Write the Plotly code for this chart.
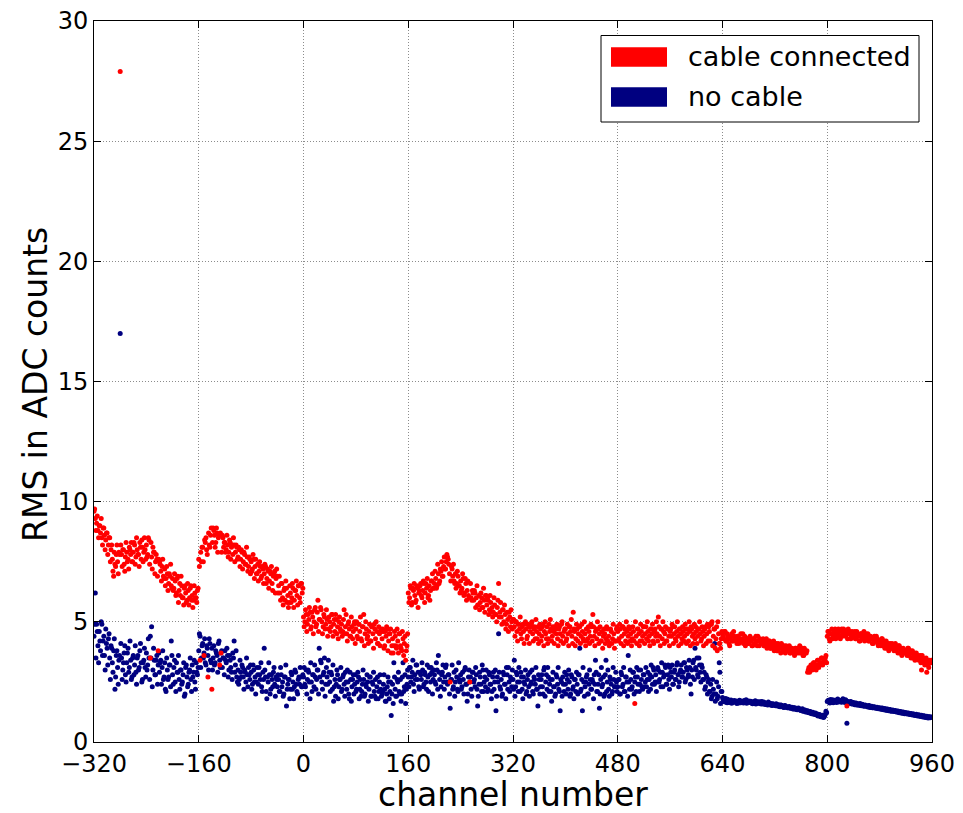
import plotly.graph_objects as go

# channel numbers: even channels, then odd channels
channels_even = list(range(-320, 960, 2))
channels_odd = list(range(-319, 960, 2))

# ---- RMS, cable connected (red): even channels, 80 values per 160-channel block ----
red_a = [9.6, 9.3, 9.1, 8.8, 9.0, 8.7, 8.5, 8.9, 8.6, 8.4,
         8.7, 8.2, 8.5, 8.0, 7.6, 6.9, 7.4, 7.8, 7.5, 7.9,
         27.9, 7.8, 8.0, 7.4, 7.7, 7.9, 7.6, 8.1, 7.8, 7.5,
         7.9, 8.2, 7.7, 8.0, 7.8, 8.3, 7.6, 8.1, 7.9, 8.0,
         8.2, 7.8, 8.4, 3.5, 7.7, 8.1, 7.9, 7.5, 7.6, 3.8,
         7.5, 7.1, 7.3, 6.9, 7.2, 6.8, 7.0, 6.6, 6.9, 6.5,
         6.8, 6.4, 6.7, 6.2, 6.9, 6.3, 6.1, 6.5, 6.0, 6.4,
         6.2, 5.9, 6.3, 6.0, 6.5, 6.1, 5.9, 6.2, 6.0, 6.3]
red_b = [7.6, 3.4, 7.5, 8.1, 3.6, 8.3, 8.0, 2.7, 8.2, 8.6,
         2.2, 8.9, 8.6, 8.3, 8.7, 8.5, 3.2, 3.7, 8.6, 8.1,
         8.3, 8.0, 8.2, 7.9, 8.3, 8.1, 7.8, 8.2, 7.9, 8.1,
         7.7, 8.0, 7.6, 7.9, 7.5, 7.8, 7.4, 7.7, 7.3, 7.6,
         7.5, 7.2, 7.6, 7.3, 7.0, 7.4, 7.1, 7.3, 6.9, 7.2,
         7.0, 7.3, 6.8, 7.1, 6.7, 7.0, 6.6, 6.9, 7.1, 6.8,
         6.9, 6.5, 6.2, 6.6, 6.0, 6.3, 5.9, 6.4, 6.1, 5.8,
         6.2, 6.0, 6.4, 5.9, 6.3, 6.1, 6.5, 6.0, 6.6, 6.2]
red_c = [5.2, 5.0, 5.3, 4.9, 5.1, 5.4, 4.8, 5.2, 5.0, 5.6,
         4.9, 5.9, 5.1, 5.6, 5.0, 4.8, 5.2, 4.9, 5.1, 4.7,
         5.0, 4.8, 5.3, 4.9, 4.6, 5.1, 4.8, 5.0, 4.7, 4.9,
         4.6, 5.5, 4.8, 4.5, 4.9, 4.7, 4.4, 4.8, 4.6, 5.0,
         4.7, 4.4, 4.9, 4.6, 4.3, 4.8, 5.3, 4.5, 4.7, 4.4,
         4.6, 4.2, 4.8, 4.5, 4.9, 4.3, 4.6, 4.1, 4.5, 4.7,
         4.3, 4.6, 4.0, 4.4, 4.7, 4.2, 4.5, 3.7, 4.3, 4.0,
         4.4, 3.9, 4.2, 4.5, 4.0, 3.8, 4.3, 4.1, 3.4, 4.0]
red_d = [6.2, 6.0, 6.4, 5.8, 6.3, 6.1, 5.9, 6.4, 6.2, 6.5,
         6.1, 6.3, 6.6, 6.2, 6.4, 6.0, 6.5, 6.3, 6.7, 6.4,
         6.6, 6.8, 6.5, 7.0, 6.7, 7.1, 6.9, 7.3, 7.2, 7.5,
         7.7, 7.4, 2.5, 7.3, 6.9, 6.7, 7.0, 6.6, 6.9, 6.5,
         6.7, 6.4, 6.8, 6.2, 6.6, 6.3, 6.1, 2.5, 6.0, 6.3,
         5.9, 6.2, 6.0, 5.7, 6.1, 5.8, 6.0, 5.6, 5.9, 6.1,
         5.7, 5.9, 5.5, 5.8, 5.6, 5.4, 5.7, 5.3, 5.6, 6.6,
         5.4, 5.2, 5.5, 5.0, 5.3, 4.9, 5.1, 5.4, 4.8, 5.0]
red_e = [5.1, 4.8, 5.0, 4.6, 4.9, 4.7, 4.5, 4.8, 4.6, 4.9,
         4.7, 4.4, 4.8, 4.6, 4.9, 4.5, 4.7, 4.3, 4.6, 4.8,
         4.5, 4.7, 4.4, 4.9, 4.6, 4.5, 4.8, 4.3, 4.6, 4.7,
         4.4, 4.6, 4.8, 4.5, 4.3, 4.7, 4.5, 4.9, 4.4, 4.6,
         4.7, 4.3, 4.5, 4.8, 4.6, 4.4, 5.4, 4.6, 4.3, 4.7,
         4.5, 4.8, 4.4, 4.6, 4.2, 4.5, 4.7, 4.3, 4.6, 4.4,
         4.8, 5.3, 4.4, 4.6, 4.3, 4.7, 4.5, 4.2, 4.6, 4.4,
         4.5, 4.3, 4.7, 4.4, 4.1, 4.6, 4.3, 4.5, 4.2, 4.7]
red_f = [4.6, 4.3, 4.7, 4.4, 4.8, 4.5, 4.2, 4.6, 4.4, 4.7,
         4.5, 4.3, 4.6, 1.6, 4.4, 4.7, 4.5, 4.2, 4.6, 4.4,
         4.8, 4.5, 4.3, 4.6, 4.4, 4.7, 4.5, 4.2, 4.6, 4.4,
         4.5, 5.2, 4.4, 4.7, 4.3, 4.6, 4.5, 4.2, 4.7, 4.4,
         4.6, 4.4, 4.8, 4.5, 4.3, 4.6, 4.4, 4.7, 4.5, 4.3,
         4.6, 4.4, 4.7, 4.5, 4.2, 4.6, 4.8, 4.4, 4.5, 4.3,
         4.6, 4.4, 4.7, 4.5, 4.3, 4.6, 4.4, 4.8, 4.5, 4.2,
         4.6, 4.9, 5.0, 4.4, 4.7, 4.3, 3.8, 4.5, 4.1, 4.3]
red_g = [4.5, 4.3, 4.6, 4.2, 4.4, 4.1, 4.3, 4.5, 4.2, 4.4,
         4.3, 4.1, 4.4, 4.2, 4.5, 4.3, 4.1, 4.4, 4.2, 4.3,
         4.1, 4.4, 4.2, 4.0, 4.3, 4.1, 4.2, 4.4, 4.0, 4.2,
         4.1, 4.3, 4.0, 4.2, 3.9, 4.1, 4.2, 3.9, 4.0, 4.2,
         3.9, 4.1, 3.8, 4.0, 3.9, 4.1, 3.8, 4.0, 3.7, 3.9,
         3.8, 4.0, 3.7, 3.9, 3.8, 3.6, 3.9, 3.7, 3.8, 4.0,
         3.7, 3.9, 3.6, 3.8, 3.7, 2.9, 3.1, 3.0, 3.2, 3.1,
         3.3, 3.1, 3.2, 3.4, 3.2, 3.3, 3.5, 3.3, 3.4, 3.6]
red_h = [4.4, 4.6, 4.2, 4.5, 4.3, 4.6, 4.7, 4.4, 4.5, 4.6,
         4.3, 4.7, 4.5, 4.6, 4.4, 1.5, 4.7, 4.5, 4.3, 4.6,
         4.4, 4.6, 4.3, 4.5, 4.4, 4.2, 4.5, 4.3, 4.6, 4.4,
         4.3, 4.5, 4.2, 4.4, 4.3, 4.1, 4.4, 4.2, 4.3, 4.0,
         4.2, 4.0, 4.3, 4.1, 3.9, 4.2, 4.0, 3.8, 4.1, 3.9,
         4.0, 3.8, 4.1, 3.9, 3.7, 4.0, 3.8, 3.6, 3.9, 3.7,
         3.8, 3.6, 3.9, 3.7, 3.5, 3.8, 3.6, 3.4, 3.7, 3.5,
         3.4, 3.6, 3.0, 3.5, 3.3, 3.4, 2.9, 3.2, 3.4, 3.3]

# ---- RMS, cable connected (red): odd channels ----
red_a1 = [9.7, 8.8, 9.4, 8.5, 9.0, 9.3, 8.2, 8.9, 8.0, 8.7,
          7.8, 8.5, 7.5, 8.2, 7.1, 7.9, 7.3, 8.2, 7.0, 7.8,
          8.2, 7.3, 8.0, 7.1, 8.3, 7.5, 7.2, 8.0, 8.3, 7.5,
          8.3, 7.4, 8.5, 7.8, 7.3, 8.1, 8.4, 7.5, 8.5, 7.6,
          7.7, 8.5, 7.4, 8.3, 7.2, 7.9, 7.0, 7.8, 6.9, 7.6,
          7.4, 6.7, 7.6, 6.8, 6.5, 7.3, 6.3, 7.0, 7.4, 6.4,
          6.3, 7.0, 6.1, 6.8, 5.8, 6.6, 6.9, 6.0, 5.7, 6.5,
          5.8, 6.6, 5.7, 6.4, 5.9, 5.6, 6.5, 6.0, 5.8, 6.4]
red_b1 = [7.3, 7.9, 8.1, 7.5, 8.4, 8.5, 7.8, 8.7, 8.1, 8.9,
          8.3, 8.8, 8.1, 8.9, 7.9, 8.6, 8.7, 7.9, 8.5, 8.3,
          7.9, 8.6, 7.7, 8.4, 7.6, 8.2, 8.5, 7.5, 8.2, 7.6,
          8.1, 7.3, 8.0, 7.2, 7.9, 7.4, 8.1, 7.1, 7.7, 7.0,
          7.1, 7.8, 6.8, 7.6, 7.0, 6.7, 7.5, 6.8, 7.3, 6.6,
          7.4, 6.6, 7.2, 6.4, 7.1, 7.3, 6.3, 7.0, 6.2, 7.2,
          6.2, 6.9, 5.9, 6.6, 5.7, 6.4, 6.7, 5.8, 5.6, 6.5,
          5.8, 6.6, 5.6, 6.3, 6.7, 5.7, 6.5, 5.8, 6.6, 6.4]
red_c1 = [4.8, 5.5, 4.6, 5.3, 5.6, 4.7, 5.4, 4.5, 5.5, 4.8,
          5.4, 4.6, 5.1, 5.5, 4.5, 5.3, 4.7, 5.5, 4.4, 5.2,
          4.6, 5.3, 4.4, 5.1, 5.3, 4.5, 4.3, 5.2, 4.6, 4.4,
          5.1, 4.5, 5.3, 4.2, 5.0, 4.4, 5.2, 4.3, 4.9, 4.1,
          5.0, 4.3, 4.9, 5.2, 4.2, 4.8, 4.0, 5.0, 4.3, 4.1,
          4.9, 4.2, 4.8, 3.9, 4.7, 5.0, 4.1, 4.8, 4.0, 4.6,
          4.7, 3.9, 4.6, 4.8, 3.8, 4.5, 4.7, 4.0, 3.7, 4.6,
          4.0, 4.7, 3.7, 4.5, 3.9, 4.6, 3.6, 4.4, 3.8, 4.5]
red_d1 = [5.8, 6.5, 5.7, 6.4, 6.6, 5.8, 6.5, 5.6, 6.3, 6.6,
          6.0, 6.7, 5.8, 6.6, 6.8, 6.1, 5.9, 6.7, 7.0, 6.4,
          7.1, 6.4, 7.4, 6.6, 7.2, 7.5, 6.9, 7.7, 7.2, 7.8,
          7.6, 7.0, 6.7, 7.2, 7.4, 6.6, 6.4, 7.1, 6.5, 6.2,
          6.3, 7.0, 6.1, 6.8, 5.9, 6.7, 6.0, 6.6, 5.9, 6.2,
          6.3, 5.6, 6.5, 5.7, 5.5, 6.2, 5.6, 6.4, 5.4, 6.1,
          6.0, 5.3, 6.1, 5.4, 5.2, 6.0, 5.3, 5.0, 5.9, 5.2,
          5.8, 4.9, 5.5, 5.7, 4.7, 5.4, 4.6, 5.2, 5.5, 4.7]
red_e1 = [5.1, 4.4, 5.0, 4.2, 4.9, 5.2, 4.3, 4.9, 4.1, 5.0,
          4.3, 4.9, 4.1, 4.8, 5.0, 4.2, 4.8, 5.1, 4.3, 4.1,
          4.9, 4.2, 4.8, 4.0, 5.0, 4.3, 4.1, 4.9, 5.1, 4.2,
          4.8, 4.1, 4.7, 4.9, 4.0, 4.8, 4.2, 5.0, 4.1, 4.7,
          4.2, 4.9, 4.0, 4.8, 5.1, 4.1, 4.7, 4.0, 4.9, 4.2,
          4.8, 4.1, 4.9, 4.3, 5.0, 4.0, 4.2, 4.8, 4.1, 4.9,
          4.2, 4.8, 4.0, 4.7, 5.0, 4.1, 4.8, 4.2, 3.9, 4.7,
          4.1, 4.8, 4.2, 4.0, 4.7, 4.1, 4.9, 3.9, 4.2, 4.8]
red_f1 = [4.2, 4.9, 4.1, 4.8, 4.0, 4.7, 5.0, 4.1, 4.8, 4.2,
          4.0, 4.8, 4.2, 5.0, 4.1, 4.7, 4.0, 4.9, 4.2, 4.8,
          4.1, 4.8, 5.0, 4.2, 4.0, 4.7, 4.9, 4.1, 4.7, 5.0,
          4.2, 4.8, 4.0, 4.7, 5.0, 4.1, 4.8, 4.2, 4.7, 4.0,
          4.7, 4.9, 4.1, 4.8, 4.2, 5.0, 4.0, 4.7, 4.1, 4.8,
          4.2, 4.9, 4.1, 4.7, 5.0, 4.0, 4.7, 4.1, 4.9, 4.8,
          4.1, 4.7, 5.0, 4.2, 4.8, 4.0, 4.7, 4.1, 4.9, 4.8,
          4.2, 4.9, 4.0, 4.7, 3.9, 4.8, 5.0, 4.1, 3.9, 4.6]
red_g1 = [4.4, 4.6, 4.2, 4.5, 4.3, 4.0, 4.4, 4.2, 4.6, 4.3,
          4.2, 4.4, 4.1, 4.3, 4.2, 4.5, 4.2, 4.0, 4.3, 4.1,
          4.3, 4.2, 4.0, 4.3, 4.1, 4.4, 4.0, 4.2, 4.3, 4.1,
          4.2, 4.0, 4.1, 4.3, 4.0, 4.2, 3.9, 4.1, 4.0, 3.8,
          4.0, 3.8, 4.1, 3.9, 3.7, 4.0, 3.9, 3.8, 4.0, 3.8,
          3.9, 3.7, 3.9, 3.8, 3.7, 3.9, 3.8, 3.9, 3.7, 3.8,
          3.8, 3.6, 3.9, 3.7, 3.8, 3.0, 2.9, 3.2, 3.0, 3.3,
          3.2, 3.0, 3.4, 3.1, 3.3, 3.5, 3.2, 3.4, 3.5, 3.3]
red_h1 = [4.6, 4.3, 4.5, 4.7, 4.4, 4.5, 4.3, 4.6, 4.7, 4.4,
          4.6, 4.4, 4.7, 4.5, 4.6, 4.3, 4.5, 4.6, 4.4, 4.5,
          4.5, 4.3, 4.6, 4.4, 4.2, 4.5, 4.3, 4.4, 4.2, 4.5,
          4.4, 4.2, 4.4, 4.3, 4.1, 4.3, 4.2, 4.4, 4.1, 4.2,
          4.1, 4.3, 4.0, 4.2, 4.0, 3.9, 4.1, 4.0, 3.9, 4.1,
          3.9, 4.0, 3.8, 3.9, 4.0, 3.7, 3.9, 3.8, 3.7, 3.8,
          3.7, 3.9, 3.6, 3.8, 3.7, 3.5, 3.7, 3.6, 3.5, 3.6,
          3.5, 3.3, 3.6, 3.4, 3.2, 3.5, 3.3, 3.1, 3.3, 3.4]

# ---- RMS, no cable (navy): even channels ----
blue_a = [4.4, 6.2, 4.9, 4.0, 4.6, 3.8, 4.9, 4.2, 3.6, 4.7,
          3.9, 4.3, 3.5, 4.0, 3.3, 3.8, 2.2, 3.6, 3.1, 3.4,
          17.0, 3.5, 3.0, 3.7, 2.8, 3.3, 3.9, 3.1, 3.4, 2.7,
          3.6, 3.2, 2.9, 3.5, 3.0, 3.8, 3.3, 2.6, 3.4, 3.1,
          3.7, 3.2, 3.5, 4.4, 4.8, 3.0, 3.4, 2.8, 3.6, 3.2,
          2.9, 3.4, 3.1, 2.6, 3.3, 2.1, 3.0, 2.7, 3.2, 4.2,
          2.8, 3.1, 2.5, 3.3, 2.9, 2.6, 3.0, 2.4, 2.8, 1.9,
          3.1, 2.7, 2.4, 3.0, 2.6, 3.2, 2.9, 2.5, 3.3, 2.8]
blue_b = [3.8, 4.4, 3.5, 4.1, 3.7, 3.3, 4.0, 3.6, 4.3, 3.4,
          3.9, 3.5, 3.2, 3.8, 3.6, 4.1, 3.4, 3.7, 3.1, 3.5,
          3.8, 3.3, 3.6, 3.0, 3.4, 2.9, 3.7, 4.2, 3.2, 2.7,
          3.0, 2.6, 2.9, 3.2, 2.7, 3.0, 2.5, 2.8, 3.1, 2.6,
          2.9, 2.4, 3.0, 2.7, 2.5, 2.8, 3.1, 2.6, 2.3, 2.9,
          3.9, 2.7, 1.8, 2.5, 2.8, 2.2, 2.6, 2.9, 2.4, 2.7,
          2.3, 2.6, 2.1, 2.8, 2.5, 2.0, 2.7, 1.5, 2.4, 2.6,
          2.2, 2.8, 2.5, 2.3, 2.9, 2.1, 2.6, 2.4, 2.7, 2.3]
blue_c = [2.7, 2.4, 3.0, 2.6, 2.9, 1.8, 2.5, 2.8, 2.3, 2.7,
          2.6, 3.0, 3.9, 3.4, 2.5, 2.8, 3.5, 2.4, 2.7, 3.4,
          2.5, 2.9, 2.2, 1.7, 2.6, 2.4, 2.8, 2.3, 2.6, 2.1,
          2.7, 2.4, 2.9, 2.2, 2.5, 1.8, 2.6, 2.3, 2.8, 2.4,
          2.1, 2.5, 2.7, 2.2, 1.9, 2.4, 2.6, 2.0, 2.3, 2.5,
          2.2, 2.7, 1.9, 2.4, 2.1, 2.6, 2.3, 1.8, 2.5, 2.2,
          2.0, 2.4, 2.2, 1.7, 2.3, 2.5, 2.1, 1.1, 2.4, 3.3,
          2.2, 1.9, 2.5, 2.1, 2.6, 2.0, 3.3, 2.3, 1.6, 2.4]
blue_d = [2.7, 3.1, 2.5, 2.9, 2.4, 2.8, 3.2, 2.6, 2.3, 2.9,
          2.6, 3.0, 2.4, 2.8, 2.2, 2.7, 3.1, 2.5, 2.9, 2.6,
          2.8, 2.4, 3.0, 3.6, 2.6, 2.3, 2.9, 2.5, 2.7, 3.2,
          2.4, 2.8, 1.4, 2.6, 2.2, 2.9, 2.5, 2.7, 2.1, 2.6,
          2.8, 2.3, 2.6, 3.0, 2.4, 1.7, 2.7, 2.5, 2.2, 2.9,
          2.5, 2.3, 2.8, 1.5, 2.4, 2.7, 2.1, 3.0, 2.5, 2.3,
          2.6, 2.2, 2.8, 2.4, 2.1, 2.9, 2.5, 1.3, 2.7, 4.5,
          2.3, 2.6, 2.0, 2.8, 2.4, 3.1, 2.2, 2.5, 2.7, 2.3]
blue_e = [2.6, 3.4, 2.3, 2.8, 2.1, 2.5, 2.9, 2.2, 2.7, 2.4,
          2.0, 2.6, 2.3, 2.9, 2.5, 2.1, 2.7, 2.4, 2.2, 1.5,
          2.6, 2.3, 2.8, 2.0, 3.1, 2.5, 2.2, 2.7, 2.4, 2.1,
          2.6, 2.3, 1.9, 2.8, 2.4, 2.2, 1.3, 2.5, 2.7, 2.1,
          2.4, 2.8, 2.2, 2.5, 2.0, 2.7, 2.3, 2.6, 2.1, 2.4,
          2.8, 3.9, 2.2, 1.3, 2.5, 2.3, 2.7, 2.0, 2.4, 2.6,
          2.2, 2.5, 2.8, 3.4, 2.1, 2.4, 1.4, 2.6, 2.3, 2.7,
          2.0, 3.4, 2.5, 2.2, 2.7, 2.4, 2.1, 2.6, 2.3, 2.5]
blue_f = [2.3, 2.6, 2.0, 2.8, 2.4, 2.1, 2.7, 2.5, 3.6, 2.2,
          2.6, 2.3, 2.9, 2.5, 2.1, 2.7, 3.0, 2.4, 2.6, 2.2,
          2.8, 2.5, 2.3, 2.9, 2.6, 2.2, 2.7, 3.1, 2.4, 2.8,
          2.5, 3.0, 2.6, 2.3, 2.9, 2.7, 3.2, 2.4, 2.8, 2.6,
          3.1, 2.7, 2.4, 2.9, 2.6, 3.2, 2.8, 2.5, 3.0, 2.7,
          2.9, 3.3, 2.6, 3.0, 2.8, 3.1, 2.0, 2.7, 3.4, 3.9,
          3.0, 2.8, 3.5, 2.9, 3.2, 2.6, 2.9, 2.3, 2.7, 2.5,
          2.1, 2.4, 1.9, 2.2, 4.1, 2.0, 1.8, 2.3, 2.9, 2.1]
blue_g = [1.85, 1.72, 1.66, 1.70, 1.78, 1.64, 1.69, 1.61, 1.67, 1.73,
          1.65, 1.60, 1.68, 1.74, 1.63, 1.69, 1.62, 1.70, 1.76, 1.66,
          1.71, 1.64, 1.68, 1.59, 1.65, 1.72, 1.62, 1.67, 1.60, 1.64,
          1.69, 1.58, 1.63, 1.56, 1.61, 1.66, 1.55, 1.60, 1.52, 1.57,
          1.54, 1.59, 1.50, 1.55, 1.47, 1.53, 1.49, 1.44, 1.51, 1.46,
          1.42, 1.48, 1.40, 1.45, 1.37, 1.43, 1.39, 1.34, 1.41, 1.36,
          1.31, 1.38, 1.29, 1.33, 1.26, 1.30, 1.22, 1.27, 1.18, 1.24,
          1.15, 1.21, 1.12, 1.08, 1.14, 1.05, 1.10, 1.02, 1.09, 1.28]
blue_h = [1.68, 1.74, 1.62, 1.70, 1.76, 1.66, 1.72, 1.64, 1.79, 1.69,
          1.73, 1.65, 1.80, 1.70, 1.76, 0.78, 1.67, 1.61, 1.69, 1.58,
          1.64, 1.55, 1.62, 1.57, 1.53, 1.60, 1.51, 1.56, 1.49, 1.54,
          1.50, 1.46, 1.52, 1.44, 1.49, 1.42, 1.47, 1.40, 1.45, 1.38,
          1.43, 1.36, 1.41, 1.34, 1.39, 1.32, 1.37, 1.30, 1.35, 1.28,
          1.33, 1.27, 1.31, 1.25, 1.29, 1.22, 1.27, 1.20, 1.25, 1.18,
          1.23, 1.16, 1.21, 1.14, 1.19, 1.12, 1.17, 1.10, 1.15, 1.08,
          1.13, 1.06, 1.11, 1.04, 1.09, 1.02, 1.07, 1.00, 1.05, 1.03]

# ---- RMS, no cable (navy): odd channels ----
blue_a1 = [4.9, 3.5, 4.6, 3.3, 4.2, 5.0, 3.6, 4.4, 3.0, 4.1,
           3.2, 4.5, 2.6, 3.9, 2.9, 4.3, 2.7, 3.8, 2.4, 3.6,
           4.1, 2.6, 3.3, 4.0, 2.5, 3.7, 2.9, 4.2, 2.6, 3.5,
           2.8, 4.0, 2.4, 3.6, 3.1, 4.1, 2.5, 3.3, 3.9, 2.7,
           3.0, 4.3, 2.6, 3.5, 2.3, 3.9, 2.8, 3.4, 2.4, 3.7,
           3.3, 2.4, 3.8, 2.7, 2.2, 3.5, 2.6, 3.2, 2.3, 3.6,
           2.4, 3.4, 2.1, 2.9, 3.6, 2.2, 3.0, 2.5, 3.3, 2.0,
           3.2, 2.3, 2.9, 3.5, 2.1, 2.7, 3.4, 2.2, 2.9, 3.1]
blue_b1 = [4.5, 3.1, 4.0, 3.5, 4.3, 3.2, 3.9, 3.0, 4.1, 3.3,
           3.0, 4.0, 3.3, 3.7, 2.9, 4.2, 3.1, 3.8, 3.5, 2.8,
           3.4, 3.9, 2.7, 3.6, 3.1, 2.6, 3.5, 2.9, 3.8, 2.5,
           2.4, 3.4, 2.7, 3.1, 2.2, 2.9, 3.5, 2.3, 2.8, 3.2,
           2.2, 3.2, 2.5, 2.0, 3.1, 2.4, 2.8, 3.3, 2.1, 2.6,
           3.0, 2.1, 2.7, 3.3, 2.0, 2.8, 2.3, 3.1, 1.9, 2.6,
           2.8, 2.1, 3.1, 2.3, 1.9, 2.7, 3.2, 2.2, 2.6, 1.8,
           2.9, 2.2, 1.8, 3.0, 2.4, 2.0, 2.7, 3.1, 2.3, 2.8]
blue_c1 = [3.1, 2.3, 2.0, 3.0, 2.5, 3.3, 2.1, 2.8, 3.2, 2.2,
           3.0, 2.0, 2.7, 3.3, 2.2, 2.9, 1.9, 3.1, 2.4, 2.9,
           2.1, 2.8, 3.2, 2.3, 1.9, 3.0, 1.8, 2.6, 3.1, 2.2,
           2.8, 1.9, 2.5, 3.0, 2.0, 2.9, 1.7, 2.6, 2.0, 2.8,
           2.2, 2.9, 1.8, 2.6, 2.1, 3.0, 1.9, 2.4, 2.8, 1.7,
           2.7, 1.9, 2.5, 2.9, 1.9, 1.8, 2.7, 2.1, 2.8, 1.9,
           2.1, 2.8, 1.7, 2.0, 2.7, 1.8, 2.5, 2.0, 1.6, 2.7,
           1.9, 2.6, 2.9, 2.0, 1.7, 2.7, 2.1, 2.8, 2.2, 3.0]
blue_d1 = [2.3, 3.1, 2.7, 3.4, 2.1, 2.6, 3.2, 2.9, 2.2, 2.8,
           3.3, 2.3, 2.9, 2.5, 3.2, 2.1, 2.8, 3.1, 2.0, 3.0,
           2.5, 3.3, 2.2, 2.9, 1.9, 2.8, 3.2, 2.2, 3.1, 2.5,
           2.8, 2.0, 2.6, 3.2, 2.3, 1.9, 3.0, 2.2, 3.3, 2.5,
           2.2, 2.9, 2.0, 3.1, 2.4, 2.0, 3.0, 2.7, 1.9, 2.9,
           2.6, 3.1, 2.2, 1.9, 2.9, 2.4, 3.2, 2.1, 2.7, 3.0,
           2.1, 2.9, 2.4, 1.8, 2.7, 2.2, 3.0, 1.9, 2.5, 2.9,
           2.2, 1.9, 2.9, 2.4, 1.8, 2.8, 3.1, 2.1, 2.6, 3.0]
blue_e1 = [2.2, 1.9, 2.9, 2.5, 3.1, 2.1, 2.7, 1.8, 2.5, 3.0,
           2.1, 2.8, 1.9, 2.4, 3.0, 2.0, 2.6, 3.1, 2.2, 2.8,
           2.0, 2.6, 2.3, 3.0, 1.9, 2.8, 3.1, 2.1, 2.6, 1.7,
           2.9, 2.3, 2.0, 2.7, 3.1, 2.1, 2.6, 1.9, 2.4, 2.9,
           2.0, 2.6, 3.0, 1.9, 2.8, 2.2, 1.8, 2.6, 2.9, 2.0,
           2.8, 2.1, 2.6, 3.1, 1.9, 2.5, 2.8, 2.0, 3.0, 2.2,
           2.6, 1.8, 2.4, 2.9, 2.1, 2.8, 2.0, 3.1, 2.4, 1.9,
           2.8, 2.1, 3.0, 1.9, 2.6, 2.0, 3.1, 2.3, 2.9, 2.1]
blue_f1 = [2.6, 2.0, 2.9, 2.3, 3.1, 2.1, 2.7, 1.9, 2.5, 3.0,
           2.2, 2.9, 2.0, 2.7, 3.1, 2.4, 2.1, 3.0, 2.3, 2.8,
           2.3, 3.1, 2.6, 2.1, 2.8, 3.2, 2.4, 3.0, 2.5, 2.1,
           3.1, 2.5, 2.9, 3.3, 2.3, 2.8, 3.1, 2.4, 3.2, 2.2,
           2.9, 3.2, 2.4, 3.0, 2.6, 3.3, 2.3, 2.9, 3.2, 2.7,
           3.3, 2.5, 3.1, 2.7, 3.4, 2.4, 3.0, 3.3, 2.6, 3.1,
           3.5, 2.7, 3.2, 2.5, 3.1, 2.6, 2.2, 2.8, 2.0, 2.6,
           2.1, 1.8, 2.6, 2.0, 1.7, 2.5, 1.9, 3.3, 1.6, 2.1]
blue_g1 = [1.76, 1.68, 1.81, 1.63, 1.72, 1.67, 1.75, 1.64, 1.70, 1.66,
           1.71, 1.67, 1.62, 1.72, 1.68, 1.64, 1.73, 1.66, 1.61, 1.69,
           1.66, 1.70, 1.61, 1.65, 1.69, 1.58, 1.66, 1.63, 1.67, 1.58,
           1.62, 1.66, 1.57, 1.60, 1.54, 1.62, 1.58, 1.53, 1.59, 1.55,
           1.51, 1.56, 1.52, 1.48, 1.54, 1.50, 1.45, 1.52, 1.47, 1.43,
           1.46, 1.41, 1.44, 1.38, 1.42, 1.36, 1.40, 1.35, 1.38, 1.32,
           1.35, 1.28, 1.32, 1.25, 1.29, 1.23, 1.27, 1.20, 1.22, 1.17,
           1.19, 1.13, 1.17, 1.10, 1.12, 1.07, 1.11, 1.04, 1.15, 1.22]
blue_h1 = [1.72, 1.65, 1.77, 1.69, 1.63, 1.74, 1.68, 1.76, 1.66, 1.73,
           1.67, 1.75, 1.70, 1.64, 1.72, 1.68, 1.62, 1.66, 1.59, 1.63,
           1.58, 1.61, 1.54, 1.59, 1.56, 1.52, 1.57, 1.53, 1.50, 1.52,
           1.48, 1.51, 1.45, 1.48, 1.43, 1.46, 1.42, 1.44, 1.39, 1.41,
           1.38, 1.40, 1.35, 1.37, 1.33, 1.36, 1.31, 1.34, 1.29, 1.31,
           1.29, 1.30, 1.26, 1.28, 1.24, 1.26, 1.22, 1.24, 1.20, 1.21,
           1.19, 1.20, 1.16, 1.18, 1.14, 1.16, 1.12, 1.13, 1.10, 1.11,
           1.09, 1.10, 1.06, 1.08, 1.04, 1.06, 1.02, 1.05, 1.01, 1.04]

channels = channels_even + channels_odd
rms_connected = (red_a + red_b + red_c + red_d + red_e + red_f + red_g + red_h
                 + red_a1 + red_b1 + red_c1 + red_d1 + red_e1 + red_f1 + red_g1 + red_h1)
rms_nocable = (blue_a + blue_b + blue_c + blue_d + blue_e + blue_f + blue_g + blue_h
               + blue_a1 + blue_b1 + blue_c1 + blue_d1 + blue_e1 + blue_f1 + blue_g1 + blue_h1)

x_ticks = [-320, -160, 0, 160, 320, 480, 640, 800, 960]
x_ticktext = ["\u2212320", "\u2212160", "0", "160", "320", "480", "640", "800", "960"]
y_ticks = [0, 5, 10, 15, 20, 25, 30]
series_names = ["cable connected", "no cable"]
series_colors = ["#ff0000", "#000080"]

FONT = "DejaVu Sans"

fig = go.Figure()
fig.add_trace(go.Scatter(x=channels, y=rms_nocable, mode="markers", name=series_names[1],
                         marker=dict(color=series_colors[1], size=5, line=dict(width=0)),
                         showlegend=False))
fig.add_trace(go.Scatter(x=channels, y=rms_connected, mode="markers", name=series_names[0],
                         marker=dict(color=series_colors[0], size=5, line=dict(width=0)),
                         showlegend=False))

axis_common = dict(showline=True, linecolor="black", linewidth=1, mirror="ticks",
                   ticks="inside", ticklen=7, tickwidth=1, tickcolor="black",
                   showgrid=True, gridcolor="#8c8c8c", gridwidth=1, griddash="1px,2px",
                   zeroline=False, automargin=False,
                   tickfont=dict(family=FONT, size=24, color="black"))

fig.update_xaxes(range=[-320, 960], tickvals=x_ticks, ticktext=x_ticktext, **axis_common)
fig.update_yaxes(range=[0, 30], tickvals=y_ticks, **axis_common)

# pixel -> paper helpers for the plot area
W, H = 838.0, 721.0
L, B = 94.0, 742.0
def px(xp):
    return (xp - L) / W
def py(yp):
    return (B - yp) / H

# manual legend (matplotlib-style rectangle patches)
shapes = [
    dict(type="rect", xref="paper", yref="paper", x0=px(601), x1=px(919), y0=py(122), y1=py(35.5),
         line=dict(color="black", width=1), fillcolor="white", layer="above"),
    dict(type="rect", xref="paper", yref="paper", x0=px(611), x1=px(667), y0=py(66.7), y1=py(47.3),
         line=dict(width=0), fillcolor=series_colors[0], layer="above"),
    dict(type="rect", xref="paper", yref="paper", x0=px(611), x1=px(667), y0=py(106.7), y1=py(87.3),
         line=dict(width=0), fillcolor=series_colors[1], layer="above"),
]
annotations = [
    dict(xref="paper", yref="paper", x=px(686), y=py(57), xanchor="left", yanchor="middle",
         text=series_names[0], showarrow=False, font=dict(family=FONT, size=27, color="black")),
    dict(xref="paper", yref="paper", x=px(686), y=py(97), xanchor="left", yanchor="middle",
         text=series_names[1], showarrow=False, font=dict(family=FONT, size=27, color="black")),
    # axis titles
    dict(xref="paper", yref="paper", x=px(513), y=py(794), xanchor="center", yanchor="middle",
         text="channel number", showarrow=False, font=dict(family=FONT, size=33, color="black")),
    dict(xref="paper", yref="paper", x=px(35), y=py(385), xanchor="center", yanchor="middle",
         text="RMS in ADC counts", textangle=-90, showarrow=False,
         font=dict(family=FONT, size=33, color="black")),
]

fig.update_layout(width=963, height=813, margin=dict(l=94, r=31, t=21, b=71),
                  paper_bgcolor="white", plot_bgcolor="white",
                  shapes=shapes, annotations=annotations,
                  font=dict(family=FONT, color="black"))

fig.write_html("out.html")
